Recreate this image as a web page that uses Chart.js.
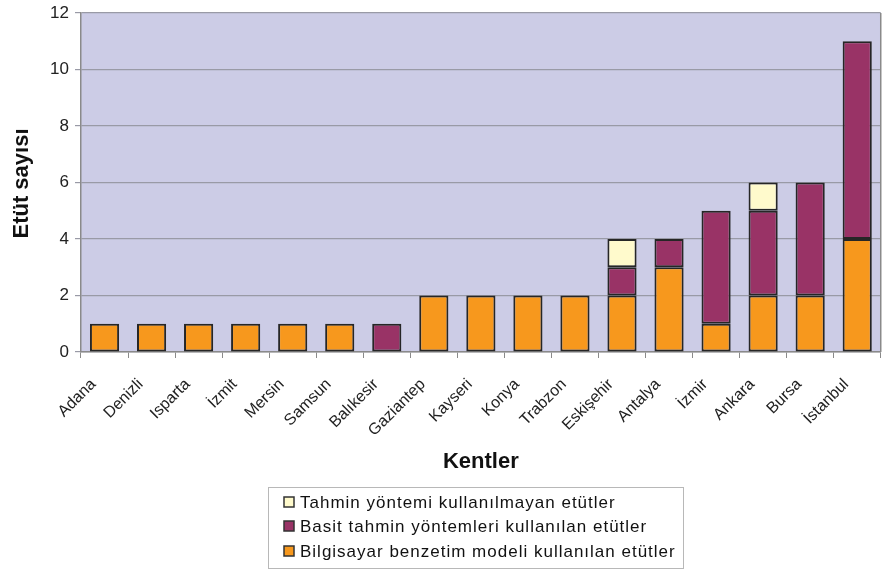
<!DOCTYPE html>
<html>
<head>
<meta charset="utf-8">
<script src="https://cdn.jsdelivr.net/npm/chart.js@4/dist/chart.umd.min.js"></script>
<style>
  html, body { margin: 0; padding: 0; background: #ffffff; }
  #wrap { width: 888px; height: 573px; }
</style>
</head>
<body>
<div id="wrap"><canvas id="c" width="888" height="573"></canvas></div>
<script>
// Cities (x-axis categories)
const kentler = ['Adana', 'Denizli', 'Isparta', 'İzmit', 'Mersin', 'Samsun', 'Balıkesir', 'Gaziantep',
  'Kayseri', 'Konya', 'Trabzon', 'Eskişehir', 'Antalya', 'İzmir', 'Ankara', 'Bursa', 'İstanbul'];

// Number of studies per city, by forecasting approach
const bilgisayarModeli = [1, 1, 1, 1, 1, 1, 0, 2, 2, 2, 2, 2, 3, 1, 2, 2, 4];
const basitYontem      = [0, 0, 0, 0, 0, 0, 1, 0, 0, 0, 0, 1, 1, 4, 3, 4, 7];
const yontemYok        = [0, 0, 0, 0, 0, 0, 0, 0, 0, 0, 0, 1, 0, 0, 1, 0, 0];

const yTicks = [0, 2, 4, 6, 8, 10, 12];
const yEksenBasligi = 'Etüt sayısı';

const FONT = "'Liberation Sans', Arial, sans-serif";

// Plot-area background, right-hand frame line and the vertical axis title
const plotFrame = {
  id: 'plotFrame',
  beforeDraw(chart) {
    const { ctx, chartArea: a } = chart;
    ctx.save();
    ctx.fillStyle = '#ccccE6';
    ctx.fillRect(a.left, a.top, a.right - a.left, a.bottom - a.top);
    ctx.restore();
  },
  afterDraw(chart) {
    const { ctx, chartArea: a } = chart;
    ctx.save();
    ctx.strokeStyle = '#8a8a8a';
    ctx.lineWidth = 1.5;
    ctx.beginPath();
    ctx.moveTo(a.right, a.top);
    ctx.lineTo(a.right, a.bottom);
    ctx.stroke();

    ctx.translate(22, (a.top + a.bottom) / 2 + 1);
    ctx.rotate(-Math.PI / 2);
    ctx.font = 'bold 22px ' + FONT;
    ctx.fillStyle = '#111';
    ctx.textAlign = 'center';
    ctx.textBaseline = 'middle';
    ctx.fillText(yEksenBasligi, 0, 0);
    ctx.restore();
  }
};

// Boxed vertical legend below the axis title
const boxLegend = {
  id: 'boxLegend',
  afterDraw(chart) {
    const { ctx } = chart;
    const items = chart.data.datasets.slice().reverse();
    const box = { x: 268, y: 487, w: 415, h: 81 };
    ctx.save();
    ctx.strokeStyle = '#b8b8b8';
    ctx.lineWidth = 1;
    ctx.strokeRect(box.x + 0.5, box.y + 0.5, box.w, box.h);
    ctx.font = '17px ' + FONT;
    if ('letterSpacing' in ctx) ctx.letterSpacing = '1px';
    ctx.textBaseline = 'middle';
    ctx.textAlign = 'left';
    const rows = [502, 526, 551];
    items.forEach((ds, i) => {
      const y = rows[i];
      ctx.fillStyle = ds.backgroundColor;
      ctx.fillRect(284, y - 5, 10, 10);
      ctx.strokeStyle = '#333';
      ctx.lineWidth = 1.5;
      ctx.strokeRect(284, y - 5, 10, 10);
      ctx.fillStyle = '#111';
      ctx.fillText(ds.label, 300, y + 1);
    });
    ctx.restore();
  }
};

new Chart(document.getElementById('c'), {
  type: 'bar',
  data: {
    labels: kentler,
    datasets: [
      {
        label: 'Bilgisayar benzetim modeli kullanılan etütler',
        data: bilgisayarModeli,
        backgroundColor: '#F7981D',
        borderColor: '#262626',
        borderWidth: 2,
        borderSkipped: false
      },
      {
        label: 'Basit tahmin yöntemleri kullanılan etütler',
        data: basitYontem,
        backgroundColor: '#993366',
        borderColor: '#262626',
        borderWidth: 2,
        borderSkipped: false
      },
      {
        label: 'Tahmin yöntemi kullanılmayan etütler',
        data: yontemYok,
        backgroundColor: '#FFFACC',
        borderColor: '#262626',
        borderWidth: 2,
        borderSkipped: false
      }
    ]
  },
  options: {
    responsive: false,
    animation: false,
    devicePixelRatio: 1,
    layout: { padding: { left: 8, right: 7, top: 13, bottom: 94 } },
    datasets: { bar: { barPercentage: 0.62, categoryPercentage: 1.0 } },
    plugins: {
      legend: { display: false },
      tooltip: { enabled: false }
    },
    scales: {
      x: {
        stacked: true,
        grid: {
          offset: true,
          drawOnChartArea: false,
          drawTicks: true,
          tickLength: 6,
          color: '#8a8a8a',
          lineWidth: 1
        },
        border: { color: '#8a8a8a', width: 1.5 },
        ticks: {
          minRotation: 45,
          maxRotation: 45,
          padding: 17,
          labelOffset: -11,
          color: '#222',
          font: { family: FONT, size: 16 }
        },
        title: {
          display: true,
          text: 'Kentler',
          color: '#111',
          font: { family: FONT, size: 22, weight: 'bold' },
          padding: { top: 4, bottom: 4 }
        },
        afterFit(scale) { scale.height = 127; }
      },
      y: {
        stacked: true,
        min: 0,
        max: 12,
        afterBuildTicks(scale) { scale.ticks = yTicks.map(v => ({ value: v })); },
        grid: {
          color: '#999aa6',
          lineWidth: 1.2,
          tickLength: 6,
          drawTicks: true
        },
        border: { color: '#8a8a8a', width: 1.5 },
        ticks: {
          padding: 6,
          color: '#222',
          font: { family: FONT, size: 17 }
        },
        title: { display: false },
        afterFit(scale) {
          scale.width = 73;
          scale.paddingTop = 0;
          scale.paddingBottom = 0;
        }
      }
    }
  },
  plugins: [plotFrame, boxLegend]
});
</script>
</body>
</html>
